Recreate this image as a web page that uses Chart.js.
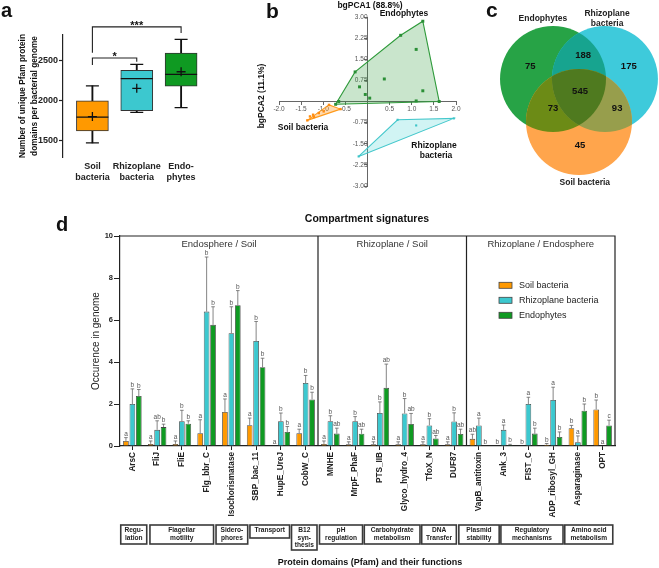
<!DOCTYPE html>
<html>
<head>
<meta charset="utf-8">
<script src="https://cdn.jsdelivr.net/npm/chart.js@4.4.1/dist/chart.umd.min.js"></script>
<style>
  html, body { margin: 0; padding: 0; background: #fff; }
  body { width: 659px; height: 568px; position: relative; overflow: hidden; }
  canvas { position: absolute; }
</style>
</head>
<body>
<canvas id="boxChart" width="220" height="200" style="left:0;top:0"></canvas>
<canvas id="pcaChart" width="245" height="200" style="left:220px;top:0"></canvas>
<canvas id="vennChart" width="199" height="200" style="left:460px;top:0"></canvas>
<canvas id="barChart" width="659" height="373" style="left:0;top:195px"></canvas>
<script>
// ---- panel a: boxplots
const boxGroups = ['Soil bacteria', 'Rhizoplane bacteria', 'Endophytes']
const boxLabels = [['Soil', 'bacteria'], ['Rhizoplane', 'bacteria'], ['Endo-', 'phytes']]
const boxMin = [1475, 1852, 1910]
const boxQ1 = [1623, 1872, 2177]
const boxMedian = [1793, 2270, 2322]
const boxQ3 = [1994, 2373, 2585]
const boxMax = [2180, 2447, 2757]
const boxMean = [1800, 2150, 2355]
const boxTicks = [1500, 2000, 2500]

// ---- panel b: bgPCA
const pcaEndo = [[1.25, 2.85], [0.75, 2.35], [1.1, 1.85], [-0.28, 1.05], [0.38, 0.8], [-0.18, 0.52], [-0.05, 0.25], [0.05, 0.12], [1.25, 0.38], [1.1, 0.02], [1.62, 0], [-0.65, 0], [-0.72, -0.1]]
const pcaSoil = [[-1.36, -0.67], [-1.3, -0.53], [-1.23, -0.47], [-1.21, -0.55], [-1.1, -0.41], [-0.99, -0.35], [-0.87, -0.12], [-0.61, -0.27]]
const pcaRhizo = [[-0.2, -1.95], [0.68, -0.65], [1.95, -0.6], [1.1, -0.85]]
const hullEndo = [[-0.72, -0.1], [-0.28, 1.05], [0.75, 2.35], [1.25, 2.85], [1.62, 0]]
const hullSoil = [[-1.36, -0.67], [-0.87, -0.12], [-0.61, -0.27]]
const hullRhizo = [[-0.2, -1.95], [0.68, -0.65], [1.95, -0.6]]

// ---- panel c: venn (E = endophytes, R = rhizoplane, S = soil)
const vennSets = ['Endophytes', ['Rhizoplane', 'bacteria'], 'Soil bacteria']
const vennRegions = ['E', 'R', 'S', 'ER', 'ES', 'RS', 'ERS']
const vennCounts = [75, 175, 45, 188, 73, 93, 545]

// ---- panel d: compartment signatures
const domains = ['ArsC', 'FliJ', 'FliE', 'Flg_bbr_C', 'Isochorismatase', 'SBP_bac_11', 'HupE_UreJ', 'CobW_C',
    'MNHE', 'MrpF_PhaF', 'PTS_IIB', 'Glyco_hydro_4', 'TfoX_N', 'DUF87',
    'VapB_antitoxin', 'Ank_3', 'FIST_C', 'ADP_ribosyl_GH', 'Asparaginase', 'OPT']
const soilMean = [0.24, 0.1, 0.1, 0.61, 1.62, 0.99, 0, 0.61, 0.1, 0.08, 0.08, 0.08, 0.08, 0.08, 0.34, 0, 0, 0.06, 0.85, 1.74]
const soilSd = [0.16, 0.14, 0.14, 0.64, 0.62, 0.34, 0, 0.19, 0.14, 0.12, 0.12, 0.12, 0.12, 0.12, 0.22, 0, 0, 0.06, 0.13, 0.45]
const rhizoMean = [2.0, 0.77, 1.18, 6.4, 5.37, 5.0, 1.18, 3.0, 1.18, 1.18, 1.57, 1.55, 0.98, 1.17, 0.98, 0.77, 2.0, 2.19, 0.18, 0]
const rhizoSd = [0.72, 0.43, 0.52, 2.6, 1.26, 0.93, 0.39, 0.36, 0.26, 0.22, 0.53, 0.71, 0.32, 0.41, 0.35, 0.23, 0.32, 0.61, 0.3, 0]
const endoMean = [2.38, 0.9, 1.06, 5.77, 6.7, 3.75, 0.67, 2.22, 0.59, 0.58, 2.77, 1.05, 0.36, 0.57, 0, 0.05, 0.59, 0.43, 1.68, 0.98]
const endoSd = [0.31, 0.14, 0.14, 0.86, 0.7, 0.43, 0.26, 0.34, 0.26, 0.22, 1.13, 0.5, 0.14, 0.23, 0, 0.03, 0.26, 0.24, 0.32, 0.25]
const soilLetters = ['a', 'a', 'a', 'a', 'a', 'a', 'a', 'a', 'a', 'a', 'a', 'a', 'a', 'a', 'ab', 'b', 'b', 'b', 'b', 'b']
const rhizoLetters = ['b', 'ab', 'b', 'b', 'b', 'b', 'b', 'b', 'b', 'b', 'b', 'b', 'b', 'b', 'a', 'a', 'a', 'a', 'a', 'a']
const endoLetters = ['b', 'b', 'b', 'b', 'b', 'b', 'b', 'b', 'ab', 'ab', 'ab', 'ab', 'ab', 'ab', 'b', 'b', 'b', 'b', 'b', 'c']
const sectionTitles = ['Endosphere / Soil', 'Rhizoplane / Soil', 'Rhizoplane / Endosphere']
const sectionStarts = [0, 8, 14, 20]
const functionNames = [['Regu-', 'lation'], ['Flagellar', 'motility'], ['Sidero-', 'phores'], ['Transport'], ['B12', 'syn-', 'thesis'],
    ['pH', 'regulation'], ['Carbohydrate', 'metabolism'], ['DNA', 'Transfer'], ['Plasmid', 'stability'], ['Regulatory', 'mechanisms'], ['Amino acid', 'metabolism']]
// box extents in category-index units (layout only)
const functionSpans = [[0.03, 1.08], [1.21, 3.78], [3.88, 5.16], [5.25, 6.85], [6.93, 7.96], [8.06, 9.8],
    [9.87, 12.12], [12.19, 13.59], [13.69, 15.32], [15.39, 17.9], [17.97, 19.91]]

const FONT = "'Liberation Sans', Arial, sans-serif"
Chart.defaults.font.family = FONT
Chart.defaults.color = '#222'
const font = (size, weight) => (weight || 'normal') + ' ' + size + 'px ' + FONT

const ORANGE = '#ff9900'
const CYAN = '#3cc8cf'
const GREEN = '#0f9a22'

function label(ctx, s, x, y, size, weight, color, align) {
    ctx.font = font(size, weight)
    ctx.fillStyle = color || '#111'
    ctx.textAlign = align || 'center'
    ctx.textBaseline = 'middle'
    ctx.fillText(s, x, y)
}

const toXY = arr => arr.map(p => ({x: p[0], y: p[1]}))

// ================= a =================
const boxDecor = {
    id: 'boxDecor',
    afterDraw(chart) {
        const {ctx, scales: {x, y}} = chart
        ctx.save()
        ctx.font = font(20, 'bold'); ctx.fillStyle = '#111'; ctx.textAlign = 'left'; ctx.textBaseline = 'alphabetic'
        ctx.fillText('a', 1, 17)

        ctx.save()
        ctx.translate(29, 96); ctx.rotate(-Math.PI / 2)
        label(ctx, 'Number of unique Pfam protein', 0, -6, 8.3, 'bold')
        label(ctx, 'domains per bacterial genome', 0, 6, 8.3, 'bold')
        ctx.restore()

        const brackets = [
            {from: 0, to: 2, level: 2910, legs: [2590, 2835], text: '***'},
            {from: 0, to: 1, level: 2525, legs: [2440, 2480], text: '*'}
        ]
        ctx.strokeStyle = '#222'; ctx.lineWidth = 1.1
        brackets.forEach(b => {
            const x0 = x.getPixelForValue(b.from), x1 = x.getPixelForValue(b.to)
            const yl = y.getPixelForValue(b.level)
            ctx.beginPath()
            ctx.moveTo(x0, y.getPixelForValue(b.legs[0])); ctx.lineTo(x0, yl)
            ctx.lineTo(x1, yl); ctx.lineTo(x1, y.getPixelForValue(b.legs[1]))
            ctx.stroke()
            ctx.font = font(11, 'bold'); ctx.fillStyle = '#111'; ctx.textAlign = 'center'; ctx.textBaseline = 'alphabetic'
            ctx.fillText(b.text, (x0 + x1) / 2, yl + 2)
        })
        ctx.restore()
    }
}

new Chart(document.getElementById('boxChart'), {
    type: 'bar',
    data: {
        datasets: [
            { type: 'bar', data: boxGroups.map((g, i) => ({x: i, y: [boxMin[i], boxMax[i]]})),
              backgroundColor: '#111', barThickness: 1.2, grouped: false, order: 5 },
            { type: 'bar', data: boxGroups.map((g, i) => ({x: i, y: [boxQ1[i], boxQ3[i]]})),
              backgroundColor: [ORANGE, CYAN, GREEN], borderColor: '#333', borderWidth: 1,
              borderSkipped: false, barThickness: 32, grouped: false, order: 3 },
            { type: 'scatter', data: boxMin.map((v, i) => ({x: i, y: v})).concat(boxMax.map((v, i) => ({x: i, y: v}))),
              pointStyle: 'line', radius: 6.5, borderColor: '#111', borderWidth: 1.2, order: 1 },
            { type: 'scatter', data: boxMedian.map((v, i) => ({x: i, y: v})),
              pointStyle: 'line', radius: 16, borderColor: '#111', borderWidth: 1.3, order: 1 },
            { type: 'scatter', data: boxMean.map((v, i) => ({x: i, y: v})),
              pointStyle: 'cross', radius: 4.5, borderColor: '#111', borderWidth: 1.3, order: 0 }
        ]
    },
    options: {
        responsive: false, animation: false, events: [],
        layout: {padding: {left: 0, top: 35, right: 5, bottom: 0}},
        plugins: {legend: {display: false}, tooltip: {enabled: false}},
        scales: {
            x: {
                type: 'linear', min: -0.663, max: 2.487, offset: false,
                grid: {display: false, drawTicks: false}, border: {display: false},
                afterBuildTicks: s => { s.ticks = boxGroups.map((g, i) => ({value: i})) },
                afterFit: s => { s.height = 43; s.paddingLeft = 0; s.paddingRight = 0 },
                ticks: {callback: v => boxLabels[v], font: {size: 9, weight: 'bold'}, color: '#222', padding: 4,
                        maxRotation: 0, autoSkip: false}
            },
            y: {
                min: 1300, max: 2810,
                afterBuildTicks: s => { s.ticks = boxTicks.map(v => ({value: v})) },
                afterFit: s => { s.width = 63; s.paddingTop = 0; s.paddingBottom = 0 },
                grid: {drawOnChartArea: false, tickLength: 4, color: '#222', tickWidth: 1.2},
                border: {color: '#222', width: 1.2},
                ticks: {callback: v => String(v), font: {size: 9, weight: 'bold'}, color: '#222', padding: 1}
            }
        }
    },
    plugins: [boxDecor]
})

// ================= b =================
const pcaDecor = {
    id: 'pcaDecor',
    afterDraw(chart) {
        const {ctx} = chart
        ctx.save()
        ctx.font = font(21, 'bold'); ctx.fillStyle = '#111'; ctx.textAlign = 'left'; ctx.textBaseline = 'alphabetic'
        ctx.fillText('b', 46, 18)
        label(ctx, 'bgPCA1 (88.8%)', 150, 5.5, 8.5, 'bold')
        label(ctx, 'Endophytes', 184, 13.5, 8.5, 'bold')
        label(ctx, 'Soil bacteria', 83, 128, 8.5, 'bold')
        label(ctx, 'Rhizoplane', 214, 146, 8.5, 'bold')
        label(ctx, 'bacteria', 216, 155.5, 8.5, 'bold')
        ctx.save()
        ctx.translate(42, 96); ctx.rotate(-Math.PI / 2)
        label(ctx, 'bgPCA2 (11.1%)', 0, 0, 8.5, 'bold')
        ctx.restore()
        ctx.restore()
    }
}

const pcaTick = (v, digits) => Math.abs(v) < 1e-9 ? '' : v.toFixed(digits)

new Chart(document.getElementById('pcaChart'), {
    type: 'scatter',
    data: {
        datasets: [
            { data: toXY(hullEndo.concat([hullEndo[0]])), showLine: true, fill: 'shape',
              backgroundColor: 'rgba(40,150,50,0.25)', borderColor: '#2e9a3a', borderWidth: 1.1, pointRadius: 0, order: 3 },
            { data: toXY(hullSoil.concat([hullSoil[0]])), showLine: true, fill: 'shape',
              backgroundColor: 'rgba(255,150,30,0.35)', borderColor: '#ff9a1a', borderWidth: 1.1, pointRadius: 0, order: 3 },
            { data: toXY(hullRhizo.concat([hullRhizo[0]])), showLine: true, fill: 'shape',
              backgroundColor: 'rgba(70,210,210,0.25)', borderColor: '#45c8cc', borderWidth: 1.1, pointRadius: 0, order: 3 },
            { data: toXY(pcaEndo), pointStyle: 'rect', radius: 2.1, backgroundColor: '#2a8f36', borderWidth: 0, order: 1 },
            { data: toXY(pcaSoil), pointStyle: 'rect', radius: 1.7, backgroundColor: '#ff8c10', borderWidth: 0, order: 1 },
            { data: toXY(pcaRhizo), pointStyle: 'rect', radius: 1.5, backgroundColor: '#3cc4c8', borderWidth: 0, order: 1 }
        ]
    },
    options: {
        responsive: false, animation: false, events: [],
        layout: {padding: {left: 59, right: 9, top: 17, bottom: 14}},
        plugins: {legend: {display: false}, tooltip: {enabled: false}},
        scales: {
            x: {
                type: 'linear', position: {y: 0}, min: -2, max: 2,
                ticks: {stepSize: 0.5, autoSkip: false, maxRotation: 0, callback: v => pcaTick(v, 1),
                        font: {size: 6.5}, color: '#555', padding: 1},
                grid: {drawOnChartArea: false, tickLength: 3, color: '#666'},
                border: {color: '#666', width: 1}
            },
            y: {
                type: 'linear', position: {x: 0}, min: -3, max: 3,
                ticks: {stepSize: 0.75, autoSkip: false, callback: v => pcaTick(v, 2),
                        font: {size: 6.5}, color: '#555', padding: 1},
                grid: {drawOnChartArea: false, tickLength: 3, color: '#666'},
                border: {color: '#666', width: 1}
            }
        }
    },
    plugins: [pcaDecor]
})

// ================= c =================
// circle centres in units of one circle radius
const vennCenters = [[0, 0], [0.98, 0], [0.49, -0.81]]
const VENN_X = [-1.755, 2.0]
const VENN_Y = [-2.283, 1.49]
const vennCountPos = {E: [-0.43, 0.23], R: [1.43, 0.23], S: [0.51, -1.25], ER: [0.57, 0.45], ES: [0, -0.55], RS: [1.21, -0.55], ERS: [0.51, -0.23]}
const vennNamePos = [[-0.19, 1.13], [1.02, 1.14], [0.6, -1.96]]
const vennFill = ['#27a346', '#3ecadb', '#ffa54c']
const vennOverlap = {ER: '#17a48f', ES: '#6c8b16', RS: '#979e4c', ERS: '#4f7a1f'}

const vennDecor = {
    id: 'vennDecor',
    afterDatasetsDraw(chart) {
        const {ctx, scales: {x, y}} = chart
        const els = chart.getDatasetMeta(0).data
        const circ = el => { ctx.beginPath(); ctx.arc(el.x, el.y, el.options.radius, 0, Math.PI * 2) }
        const pairs = [['ER', 0, 1], ['ES', 0, 2], ['RS', 1, 2]]
        pairs.forEach(([key, a, b]) => {
            ctx.save(); circ(els[a]); ctx.clip(); circ(els[b]); ctx.fillStyle = vennOverlap[key]; ctx.fill(); ctx.restore()
        })
        ctx.save(); circ(els[0]); ctx.clip(); circ(els[1]); ctx.clip(); circ(els[2]); ctx.fillStyle = vennOverlap.ERS; ctx.fill(); ctx.restore()

        ctx.save()
        vennRegions.forEach((r, i) => {
            const p = vennCountPos[r]
            label(ctx, String(vennCounts[i]), x.getPixelForValue(p[0]), y.getPixelForValue(p[1]), 9.5, 'bold', '#111')
        })
        vennSets.forEach((s, i) => {
            const px = x.getPixelForValue(vennNamePos[i][0]), py = y.getPixelForValue(vennNamePos[i][1])
            const lines = Array.isArray(s) ? s : [s]
            lines.forEach((t, k) => label(ctx, t, px, py + (k - (lines.length - 1) / 2) * 9.5, 8.5, 'bold', '#222'))
        })
        ctx.font = font(21, 'bold'); ctx.fillStyle = '#111'; ctx.textAlign = 'left'; ctx.textBaseline = 'alphabetic'
        ctx.fillText('c', 26, 17)
        ctx.restore()
    }
}

new Chart(document.getElementById('vennChart'), {
    type: 'bubble',
    data: {
        datasets: [{
            data: toXY(vennCenters), backgroundColor: vennFill, borderWidth: 0, clip: false,
            // one data unit = one circle radius; axes are hidden so the chart area is the whole canvas
            radius: ctx => ctx.chart.width / (VENN_X[1] - VENN_X[0])
        }]
    },
    options: {
        responsive: false, animation: false, events: [],
        layout: {padding: 0, autoPadding: false},
        plugins: {legend: {display: false}, tooltip: {enabled: false}},
        scales: {
            x: {type: 'linear', display: false, min: VENN_X[0], max: VENN_X[1]},
            y: {type: 'linear', display: false, min: VENN_Y[0], max: VENN_Y[1]}
        }
    },
    plugins: [vennDecor]
})

// ================= d =================
const barSds = [soilSd, rhizoSd, endoSd]
const barLetters = [soilLetters, rhizoLetters, endoLetters]

const barDecor = {
    id: 'barDecor',
    afterDatasetsDraw(chart) {
        const {ctx, scales: {y}} = chart
        ctx.save()
        ctx.strokeStyle = '#666'; ctx.lineWidth = 0.8
        chart.data.datasets.forEach((ds, d) => {
            chart.getDatasetMeta(d).data.forEach((bar, i) => {
                const top = y.getPixelForValue(ds.data[i] + barSds[d][i])
                if (barSds[d][i] > 0) {
                    ctx.beginPath()
                    ctx.moveTo(bar.x, bar.y); ctx.lineTo(bar.x, top)
                    ctx.moveTo(bar.x - 1.8, top); ctx.lineTo(bar.x + 1.8, top)
                    ctx.stroke()
                }
                ctx.font = font(6.5); ctx.fillStyle = '#555'; ctx.textAlign = 'center'; ctx.textBaseline = 'bottom'
                ctx.fillText(barLetters[d][i], bar.x, top - 0.5)
            })
        })
        ctx.restore()
    },
    afterDraw(chart) {
        const {ctx, chartArea: a, scales: {x}} = chart
        const w = x.getPixelForValue(1) - x.getPixelForValue(0)
        const edge = i => x.getPixelForValue(0) - w / 2 + i * w
        ctx.save()
        ctx.strokeStyle = '#222'; ctx.lineWidth = 1.2
        ctx.beginPath()
        ctx.moveTo(a.left, a.top); ctx.lineTo(a.right, a.top); ctx.lineTo(a.right, a.bottom)
        sectionStarts.slice(1, -1).forEach(i => { ctx.moveTo(edge(i), a.top); ctx.lineTo(edge(i), a.bottom) })
        ctx.stroke()

        sectionTitles.forEach((t, k) => {
            const x0 = edge(sectionStarts[k]), x1 = Math.min(edge(sectionStarts[k + 1]), a.right)
            label(ctx, t, (x0 + x1) / 2, a.top + 8, 9.5, 'normal', '#333')
        })
        label(ctx, 'Compartment signatures', 367, a.top - 16.7, 10.5, 'bold', '#111')

        ctx.font = font(20, 'bold'); ctx.fillStyle = '#111'; ctx.textAlign = 'left'; ctx.textBaseline = 'alphabetic'
        ctx.fillText('d', 56, 36)

        ctx.save()
        ctx.translate(96, (a.top + a.bottom) / 2); ctx.rotate(-Math.PI / 2)
        label(ctx, 'Occurence in genome', 0, 0, 10, 'normal', '#222')
        ctx.restore()

        // legend
        chart.data.datasets.forEach((ds, d) => {
            const ly = a.top + 49.3 + d * 15
            ctx.fillStyle = ds.backgroundColor; ctx.strokeStyle = '#444'; ctx.lineWidth = 0.8
            ctx.fillRect(499, ly - 3, 13, 6); ctx.strokeRect(499, ly - 3, 13, 6)
            label(ctx, ds.label, 519, ly, 9, 'normal', '#222', 'left')
        })

        // function boxes
        const boxTop = a.bottom + 79
        functionNames.forEach((lines, k) => {
            const x0 = edge(functionSpans[k][0]), x1 = edge(functionSpans[k][1])
            const h = 7 + 6 * lines.length
            ctx.strokeStyle = '#3a3a3a'; ctx.lineWidth = 1.6
            ctx.strokeRect(x0, boxTop, x1 - x0, h)
            lines.forEach((t, j) => label(ctx, t, (x0 + x1) / 2, boxTop + 5.5 + j * 7.2, 6.6, 'bold', '#222'))
        })
        label(ctx, 'Protein domains (Pfam) and their functions', 370, a.bottom + 116.5, 9, 'bold', '#111')
        ctx.restore()
    }
}

new Chart(document.getElementById('barChart'), {
    type: 'bar',
    data: {
        labels: domains,
        datasets: [
            { label: 'Soil bacteria', data: soilMean, backgroundColor: ORANGE },
            { label: 'Rhizoplane bacteria', data: rhizoMean, backgroundColor: CYAN },
            { label: 'Endophytes', data: endoMean, backgroundColor: GREEN }
        ].map(ds => Object.assign(ds, {borderColor: '#444', borderWidth: 0.8, categoryPercentage: 0.78, barPercentage: 0.88}))
    },
    options: {
        responsive: false, animation: false, events: [],
        layout: {padding: {left: 0, top: 41, right: 44, bottom: 0}},
        plugins: {legend: {display: false}, tooltip: {enabled: false}},
        scales: {
            x: {
                grid: {offset: false, drawOnChartArea: false, tickLength: 4, color: '#222'},
                border: {color: '#222', width: 1.2},
                ticks: {autoSkip: false, minRotation: 90, maxRotation: 90, font: {size: 8.2, weight: 'bold'}, color: '#222', padding: 2},
                afterFit: s => { s.height = 122 }
            },
            y: {
                min: 0, max: 10,
                ticks: {stepSize: 2, font: {size: 7.5, weight: 'bold'}, color: '#222', padding: 1},
                grid: {drawOnChartArea: false, tickLength: 6, color: '#222'},
                border: {color: '#222', width: 1.2},
                afterFit: s => { s.width = 120 }
            }
        }
    },
    plugins: [barDecor]
})
</script>
</body>
</html>
